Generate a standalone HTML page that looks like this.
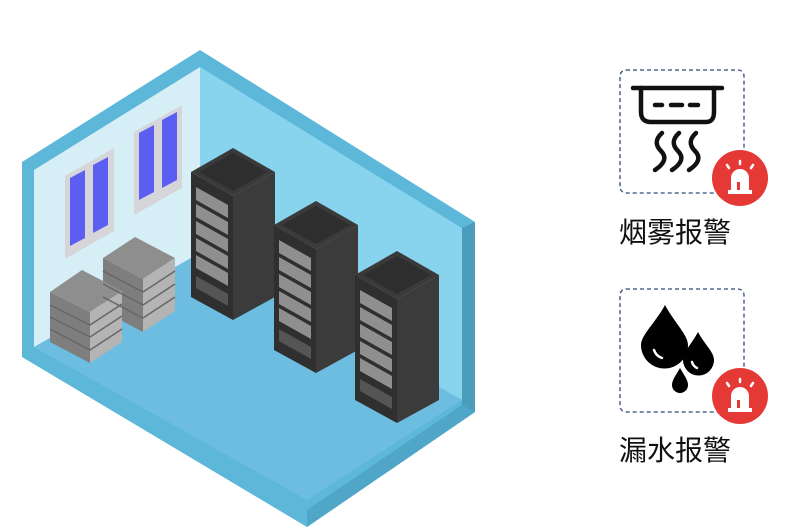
<!DOCTYPE html><html><head><meta charset="utf-8"><style>body{margin:0;background:#fff}svg{display:block}</style></head><body>
<svg width="800" height="528" viewBox="0 0 800 528" xmlns="http://www.w3.org/2000/svg">
<polygon points="200,50 475,222 475,412 307,527 22,357 22,162" fill="#5cb7d9"/>
<polygon points="462,228 475,222 475,412 462,405" fill="#4a9dbb"/>
<polygon points="307,510 462,405 475,412 307,527" fill="#4fa6c6"/>
<polygon points="34,170 200,67 200,253 34,347" fill="#d6eff6"/>
<polygon points="200,67 462,228 462,400 200,253" fill="#88d4ef"/>
<polygon points="34,347 200,253 462,400 307,500" fill="#6dbde0"/>
<g>
<polygon points="65,176 114,148 114,231 65,259" fill="#d6d6da"/>
<polygon points="70,178 85,170 85,238 70,246" fill="#5b5ef0"/>
<polygon points="93,165 108,157 108,225 93,233" fill="#5b5ef0"/>
<polygon points="134,132 182,105 182,188 134,215" fill="#d6d6da"/>
<polygon points="139,133 154,125 154,192 139,200" fill="#5b5ef0"/>
<polygon points="162,120 177,112 177,180 162,188" fill="#5b5ef0"/>
</g>
<g>
<polygon points="103,258 135,237 175,258 143,279" fill="#8e8e8e"/>
<polygon points="103,258 143,279 143,332 103,311" fill="#7e7e7e"/>
<polygon points="143,279 175,258 175,311 143,332" fill="#b4b4b4"/>
<polygon points="50,292 82,270 122,291 90,312" fill="#8e8e8e"/>
<polygon points="50,292 90,312 90,363 50,342" fill="#7e7e7e"/>
<polygon points="90,312 122,291 122,342 90,363" fill="#b4b4b4"/>
<g stroke="#666" stroke-width="1.5">
<line x1="50" y1="305" x2="90" y2="325"/><line x1="50" y1="317" x2="90" y2="337"/><line x1="50" y1="329" x2="90" y2="350"/>
<line x1="90" y1="325" x2="122" y2="304"/><line x1="90" y1="337" x2="122" y2="316"/><line x1="90" y1="350" x2="122" y2="329"/>
<line x1="103" y1="271" x2="143" y2="292"/><line x1="103" y1="284" x2="143" y2="305"/><line x1="103" y1="297" x2="143" y2="318"/>
<line x1="143" y1="292" x2="175" y2="271"/><line x1="143" y1="305" x2="175" y2="284"/><line x1="143" y1="318" x2="175" y2="297"/>
</g></g>
<defs>
<g id="rack">
<polygon points="0,24 42,0 84,24 42,48" fill="#3a3a3a"/>
<polygon points="8,24 42,5 76,24 42,43" fill="#2e2e2e"/>
<polygon points="0,24 42,48 42,172 0,149" fill="#2f2f2f"/>
<polygon points="42,48 84,24 84,149 42,172" fill="#3b3b3b"/>
<g fill="#8f8f8f">
<polygon points="5,39 37,57 37,70 5,52"/>
<polygon points="5,56 37,74 37,87 5,69"/>
<polygon points="5,73 37,91 37,104 5,86"/>
<polygon points="5,90 37,108 37,121 5,103"/>
<polygon points="5,107 37,125 37,138 5,120"/>
</g>
<polygon points="5,128 37,146 37,158 5,140" fill="#555"/>
</g>
</defs>
<use href="#rack" x="191" y="148"/>
<use href="#rack" x="274" y="201"/>
<use href="#rack" x="355" y="251"/>
<g fill="none" stroke="#2f4a78" stroke-width="1.3" stroke-dasharray="4,3">
<rect x="620" y="70" width="124" height="123" rx="6"/>
<rect x="620" y="289" width="124" height="123" rx="6"/>
</g>
<g stroke="#111" stroke-width="4.5" fill="none" stroke-linecap="round">
<line x1="633" y1="88" x2="722" y2="88"/>
<path d="M641 88 V112 Q641 122 651 122 H706 Q714 122 714 112 V88"/>
<line x1="655" y1="105" x2="662" y2="105"/><line x1="671" y1="105" x2="682" y2="105"/><line x1="690" y1="105" x2="698" y2="105"/>
<path d="M662 133 q-10 9 -1 18 q9 9 -6 19"/>
<path d="M679 133 q-10 9 -1 18 q9 9 -6 19"/>
<path d="M696 133 q-10 9 -1 18 q9 9 -6 19"/>
</g>
<g fill="#000">
<path d="M665 305 C656 322 641 335 641 345 A20 20 0 0 0 688 345 C688 335 674 322 665 305Z"/>
<path d="M698 332 C691 345 683 352 683 360 A15.5 15.5 0 0 0 714 360 C714 352 705 345 698 332Z"/>
<path d="M680 368 C676 375 672 380 672 385 A8 8 0 0 0 688 385 C688 380 684 375 680 368Z"/>
</g>
<g stroke="#fff" stroke-width="2.5" fill="none" stroke-linecap="round">
<path d="M654 350 q2 6 8 8"/><path d="M692 362 q1 4 5 6"/>
</g>
<g>
<circle cx="740" cy="178" r="28" fill="#e53935"/>
<circle cx="740" cy="396" r="28" fill="#e53935"/>
<g fill="#fff" stroke="#fff">
<path d="M731 190 V178 A9 9 0 0 1 749 178 V190Z" stroke="none"/>
<rect x="728" y="190" width="24" height="4" stroke="none"/>
<path d="M731 408 V396 A9 9 0 0 1 749 396 V408Z" stroke="none"/>
<rect x="728" y="408" width="24" height="4" stroke="none"/>
<g stroke-width="2.5" stroke-linecap="round"><line x1="740" y1="161" x2="740" y2="164"/><line x1="727" y1="165" x2="729" y2="168"/><line x1="753" y1="165" x2="751" y2="168"/>
<line x1="740" y1="379" x2="740" y2="382"/><line x1="727" y1="383" x2="729" y2="386"/><line x1="753" y1="383" x2="751" y2="386"/></g>
</g>
<rect x="737" y="182" width="3" height="8" fill="#e53935"/>
<rect x="737" y="400" width="3" height="8" fill="#e53935"/>
</g>
<g font-family="'Liberation Sans','Noto Sans CJK SC',sans-serif" font-size="28" fill="#111">
<text x="619" y="242">烟雾报警</text>
<text x="619" y="460">漏水报警</text>
</g>
</svg>
</body></html>
